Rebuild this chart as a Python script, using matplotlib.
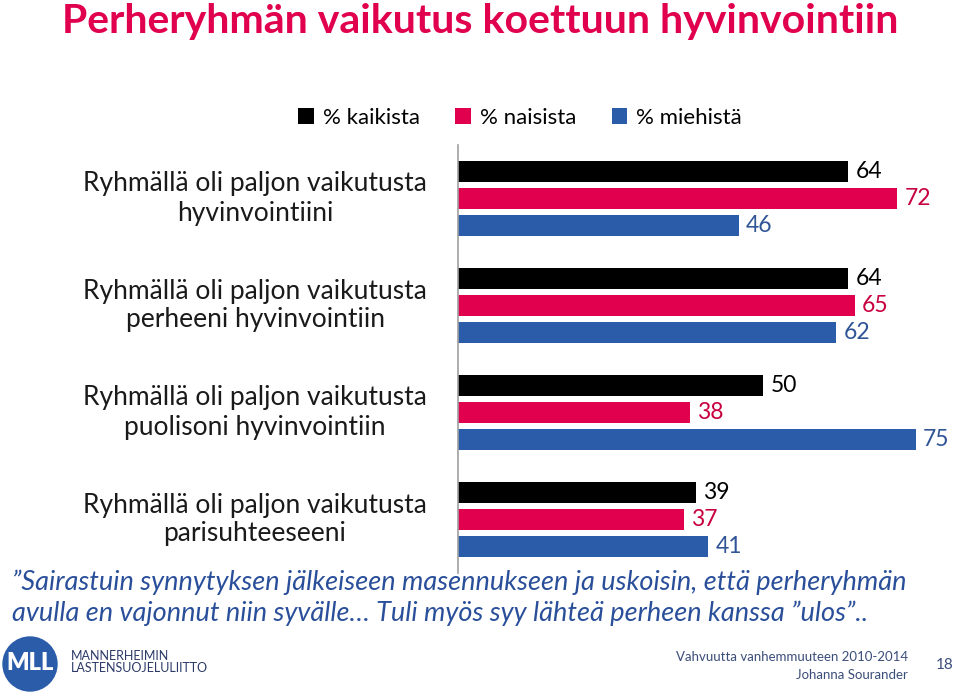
import matplotlib
matplotlib.use('Agg')
import matplotlib.pyplot as plt
import matplotlib.transforms as mtransforms
import numpy as np
from matplotlib.patches import Circle

plt.rcParams['font.family'] = ['Lato', 'DejaVu Sans']

categories = ['Ryhmällä oli paljon vaikutusta\nhyvinvointiini',
              'Ryhmällä oli paljon vaikutusta\nperheeni hyvinvointiin',
              'Ryhmällä oli paljon vaikutusta\npuolisoni hyvinvointiin',
              'Ryhmällä oli paljon vaikutusta\nparisuhteeseeni']
series_names = ['% kaikista', '% naisista', '% miehistä']
kaikista = [64, 64, 50, 39]
naisista = [72, 65, 38, 37]
miehista = [46, 62, 75, 41]

bar_colors = ['#000000', '#E0004D', '#2A5CAA']
label_colors = ['#000000', '#C8003F', '#2F5597']
title_color = '#E0004D'
quote_color = '#2A4F9A'
footer_color = '#3B4E7A'

fig = plt.figure(figsize=(9.6, 6.96), dpi=100)

# title
fig.text(62/960, 1 - 22/696, 'Perheryhmän vaikutus koettuun hyvinvointiin',
         fontsize=29.5, fontweight='bold', color=title_color, va='center', ha='left')

ax = fig.add_axes([458/960, 1 - 573/696, 488/960, 428/696])
ax.set_xlim(0, 80)
ax.set_ylim(3.5, -0.5)

y = np.arange(len(categories))
off = 0.252
h = 0.196
for i, (vals, c, lc) in enumerate(zip([kaikista, naisista, miehista], bar_colors, label_colors)):
    yy = y + (i - 1) * off
    ax.barh(yy, vals, height=h, color=c, label=series_names[i])
    for yv, v in zip(yy, vals):
        ax.text(v + 1.2, yv, str(v), color=lc, fontsize=16.5, va='center', ha='left')

for s in ['top', 'right', 'bottom']:
    ax.spines[s].set_visible(False)
ax.spines['left'].set_color('#A0A0A0')
ax.spines['left'].set_linewidth(1.2)
ax.set_xticks([])
ax.set_yticks([])

# category labels, centred in the left margin
trans = mtransforms.blended_transform_factory(fig.transFigure, ax.transData)
for yi, cat in zip(y, categories):
    ax.text(255/960, yi, cat, transform=trans,
            fontsize=19, ha='center', va='center', linespacing=1.2, color='#1a1a1a')

fig.legend(loc='center', bbox_to_anchor=(520/960, 1 - 118/696), ncol=3, frameon=False,
           fontsize=16, handlelength=0.7, handleheight=0.7, handletextpad=0.4,
           columnspacing=1.6)

# quote
fig.text(12/960, 1 - 582/696,
         '”Sairastuin synnytyksen jälkeiseen masennukseen ja uskoisin, että perheryhmän',
         fontsize=19.5, style='italic', color=quote_color, va='center', ha='left')
fig.text(12/960, 1 - 613/696,
         'avulla en vajonnut niin syvälle… Tuli myös syy lähteä perheen kanssa ”ulos”..',
         fontsize=19.5, style='italic', color=quote_color, va='center', ha='left')

# logo and footer
lax = fig.add_axes([0, 0, 1, 1], facecolor='none')
lax.set_xlim(0, 960)
lax.set_ylim(696, 0)
lax.axis('off')
lax.add_patch(Circle((30, 664), 27, color='#2A5CAA'))
lax.text(30, 663, 'MLL', color='white', fontsize=17, fontweight='heavy', ha='center', va='center')
lax.text(71, 656, 'MANNERHEIMIN', color='#2B3A67', fontsize=9, ha='left', va='center')
lax.text(71, 668, 'LASTENSUOJELULIITTO', color='#2B3A67', fontsize=9, ha='left', va='center')

lax.text(908, 657, 'Vahvuutta vanhemmuuteen 2010-2014', color=footer_color, fontsize=9.5, ha='right', va='center')
lax.text(908, 675, 'Johanna Sourander', color=footer_color, fontsize=9.5, ha='right', va='center')
lax.text(945, 665, '18', color=footer_color, fontsize=11, ha='center', va='center')

fig.savefig('out.png', dpi=100)
